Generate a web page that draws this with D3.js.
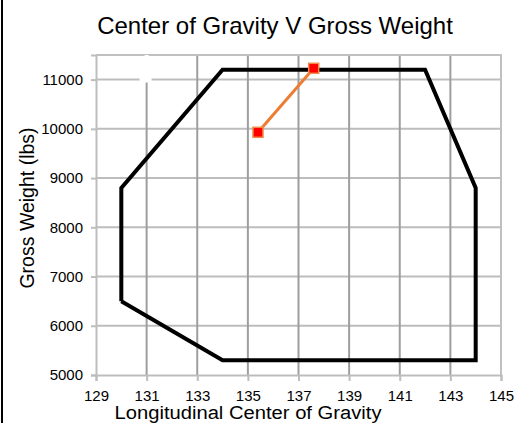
<!DOCTYPE html>
<html>
<head>
<meta charset="utf-8">
<script src="https://cdn.jsdelivr.net/npm/d3@7"></script>
<style>
  body { margin: 0; background: #fff; }
  svg { display: block; font-family: "Liberation Sans", Arial, sans-serif; }
</style>
</head>
<body>
<svg></svg>
<script>
// envelope limits (CG inches, weight lbs)
const envelopeCG = [130, 130, 134, 142, 144, 144, 134, 130];
const envelopeWeight = [6500, 8800, 11200, 11200, 8800, 5300, 5300, 6500];

// loading line: takeoff / zero fuel
const loadCG = [135.4, 137.6];
const loadWeight = [9930, 11230];

const xTicks = [129, 131, 133, 135, 137, 139, 141, 143, 145];
const yTicks = [5000, 6000, 7000, 8000, 9000, 10000, 11000];

window.onload = () => {
  const width = 532, height = 423;
  const margin = {left: 96, right: 31, top: 55, bottom: 48};

  const svg = d3.select("svg")
    .attr("width", width)
    .attr("height", height);

  const x = d3.scaleLinear().domain([129, 145]).range([margin.left, width - margin.right]);
  const y = d3.scaleLinear().domain([5000, 11500]).range([height - margin.bottom, margin.top]);

  // black frame edge on the left of the picture
  svg.append("rect")
    .attr("x", 1).attr("y", 0)
    .attr("width", 2).attr("height", height)
    .attr("fill", "#000");

  // horizontal gridlines
  svg.append("g")
    .selectAll("line")
    .data(yTicks.slice(1))
    .join("line")
    .attr("x1", x(129)).attr("x2", x(145))
    .attr("y1", d => y(d)).attr("y2", d => y(d))
    .attr("stroke", "#bdbdbd")
    .attr("stroke-width", 2);

  // vertical gridlines
  svg.append("g")
    .selectAll("line")
    .data(xTicks.slice(1, -1))
    .join("line")
    .attr("x1", d => x(d)).attr("x2", d => x(d))
    .attr("y1", y(11500)).attr("y2", y(5000))
    .attr("stroke", "#9e9e9e")
    .attr("stroke-width", 2);

  // plot border (top and right)
  svg.append("path")
    .attr("d", `M${x(129)},${y(11500)}H${x(145)}V${y(5000)}`)
    .attr("fill", "none")
    .attr("stroke", "#c0c0c0")
    .attr("stroke-width", 2);

  // axes
  const xAxis = svg.append("g")
    .attr("transform", `translate(0,${y(5000)})`)
    .call(d3.axisBottom(x).tickValues(xTicks).tickSize(6).tickPadding(9));
  const yAxis = svg.append("g")
    .attr("transform", `translate(${x(129)},0)`)
    .call(d3.axisLeft(y).tickValues(yTicks).tickFormat(d3.format("d")).tickSize(5).tickPadding(8));

  [xAxis, yAxis].forEach(g => {
    g.select(".domain").attr("stroke", "#bdbdbd").attr("stroke-width", 2);
    g.selectAll(".tick line").attr("stroke", "#bdbdbd").attr("stroke-width", 2);
    g.selectAll(".tick text")
      .attr("fill", "#000")
      .style("font-size", "15px")
      .style("font-family", "Liberation Sans, Arial, sans-serif");
  });

  // small white mark near 131 / 11000
  svg.append("path")
    .attr("d", `M${x(131)},${y(11500)}V${y(11000) + 3}M${x(131) - 7},${y(11000)}H${x(131) + 5}`)
    .attr("stroke", "#fff")
    .attr("stroke-width", 4);

  // envelope
  const envelope = envelopeCG.map((c, i) => [c, envelopeWeight[i]]);
  svg.append("path")
    .datum(envelope)
    .attr("fill", "none")
    .attr("stroke", "#000")
    .attr("stroke-width", 4)
    .attr("stroke-linejoin", "miter")
    .attr("d", d3.line().x(d => x(d[0])).y(d => y(d[1])));

  // loading line
  const load = loadCG.map((c, i) => [c, loadWeight[i]]);
  svg.append("path")
    .datum(load)
    .attr("fill", "none")
    .attr("stroke", "#ed7d31")
    .attr("stroke-width", 3)
    .attr("d", d3.line().x(d => x(d[0])).y(d => y(d[1])));

  svg.append("g")
    .selectAll("rect")
    .data(load)
    .join("rect")
    .attr("x", d => x(d[0]) - 5)
    .attr("y", d => y(d[1]) - 5)
    .attr("width", 10)
    .attr("height", 10)
    .attr("fill", "#ff0000")
    .attr("stroke", "#f08a4b")
    .attr("stroke-width", 1.5);

  // titles
  svg.append("text")
    .attr("x", 275).attr("y", 34)
    .attr("text-anchor", "middle")
    .style("font-size", "24px")
    .text("Center of Gravity V Gross Weight");

  svg.append("text")
    .attr("x", 248).attr("y", 419)
    .attr("text-anchor", "middle")
    .attr("textLength", 267)
    .attr("lengthAdjust", "spacingAndGlyphs")
    .style("font-size", "18px")
    .text("Longitudinal Center of Gravity");

  svg.append("text")
    .attr("transform", `translate(34,208) rotate(-90)`)
    .attr("text-anchor", "middle")
    .style("font-size", "19.5px")
    .text("Gross Weight (lbs)");
};
</script>
</body>
</html>
